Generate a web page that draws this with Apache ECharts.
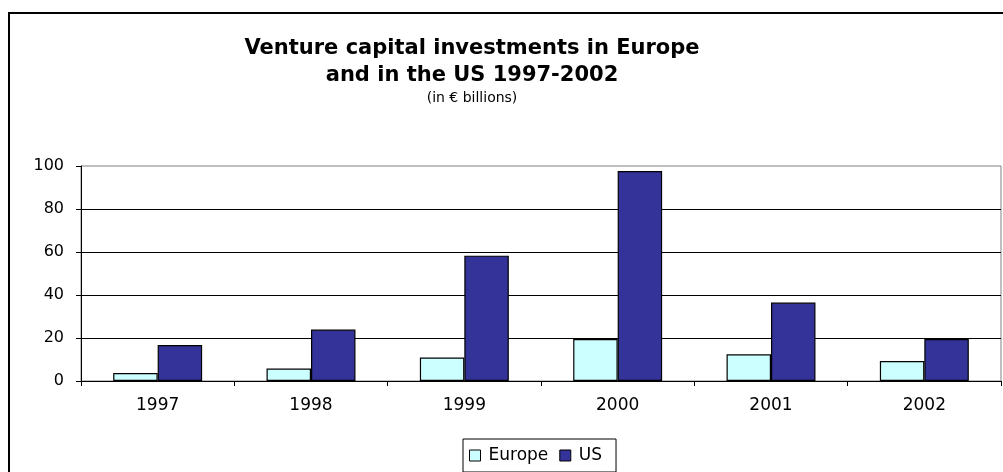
<!DOCTYPE html>
<html>
<head>
<meta charset="utf-8">
<script src="https://cdn.jsdelivr.net/npm/echarts@6/dist/echarts.min.js"></script>
<style>
  html, body { margin: 0; padding: 0; background: #fff; }
  #chart { width: 1003px; height: 472px; }
</style>
</head>
<body>
<div id="chart"></div>
<script>
// Venture capital investments, € billions
const years = ['1997', '1998', '1999', '2000', '2001', '2002'];
const europe = [3.7, 5.8, 10.9, 19.5, 12.4, 9.3];
const us = [16.7, 23.9, 58.3, 97.7, 36.5, 19.5];
const yTicks = { min: 0, max: 100, interval: 20 };

const FONT = '"DejaVu Sans", Arial, sans-serif';

const chart = echarts.init(document.getElementById('chart'), null, { renderer: 'canvas' });

chart.setOption({
  backgroundColor: '#fff',
  animation: false,
  textStyle: { fontFamily: FONT },
  graphic: [{
    type: 'rect',
    silent: true,
    z: -10,
    shape: { x: 9, y: 13, width: 1010, height: 480 },
    style: { fill: 'none', stroke: '#000', lineWidth: 2 }
  }],
  title: {
    text: 'Venture capital investments in Europe\nand in the US 1997-2002',
    subtext: '(in € billions)',
    left: 467,
    top: 30,
    textAlign: 'center',
    itemGap: 2,
    textStyle: {
      fontFamily: FONT, fontSize: 21, fontWeight: 'bold', color: '#000', lineHeight: 27
    },
    subtextStyle: {
      fontFamily: FONT, fontSize: 14, color: '#000'
    }
  },
  legend: {
    data: ['Europe', 'US'],
    left: 463,
    top: 439,
    orient: 'horizontal',
    padding: [8, 14, 8, 6],
    itemGap: 11,
    itemWidth: 11,
    itemHeight: 11,
    icon: 'rect',
    borderColor: '#000',
    borderWidth: 1,
    itemStyle: { borderColor: '#000', borderWidth: 1 },
    textStyle: { fontFamily: FONT, fontSize: 17, color: '#000', padding: [0, 0, 0, 3] }
  },
  grid: {
    left: 81,
    right: 2,
    top: 166,
    bottom: 91,
    show: true,
    borderColor: '#808080',
    borderWidth: 1,
    backgroundColor: '#fff'
  },
  xAxis: {
    type: 'category',
    data: years,
    axisLine: { lineStyle: { color: '#000', width: 1 } },
    axisTick: { show: true, length: 5, lineStyle: { color: '#000' } },
    axisLabel: { fontFamily: FONT, fontSize: 17, color: '#000', margin: 16 },
    splitLine: { show: false }
  },
  yAxis: {
    type: 'value',
    min: yTicks.min,
    max: yTicks.max,
    interval: yTicks.interval,
    axisLine: { show: true, lineStyle: { color: '#000', width: 1 } },
    axisTick: { show: true, length: 5, lineStyle: { color: '#000' } },
    axisLabel: { fontFamily: FONT, fontSize: 16, color: '#000', margin: 17 },
    splitLine: { show: true, showMaxLine: false, lineStyle: { color: '#000', width: 1 } }
  },
  series: [
    {
      name: 'Europe',
      type: 'bar',
      data: europe,
      barGap: '0%',
      barCategoryGap: '42%',
      itemStyle: { color: '#CCFFFF', borderColor: '#000', borderWidth: 1.2 }
    },
    {
      name: 'US',
      type: 'bar',
      data: us,
      itemStyle: { color: '#333399', borderColor: '#000', borderWidth: 1.2 }
    }
  ]
});
</script>
</body>
</html>
